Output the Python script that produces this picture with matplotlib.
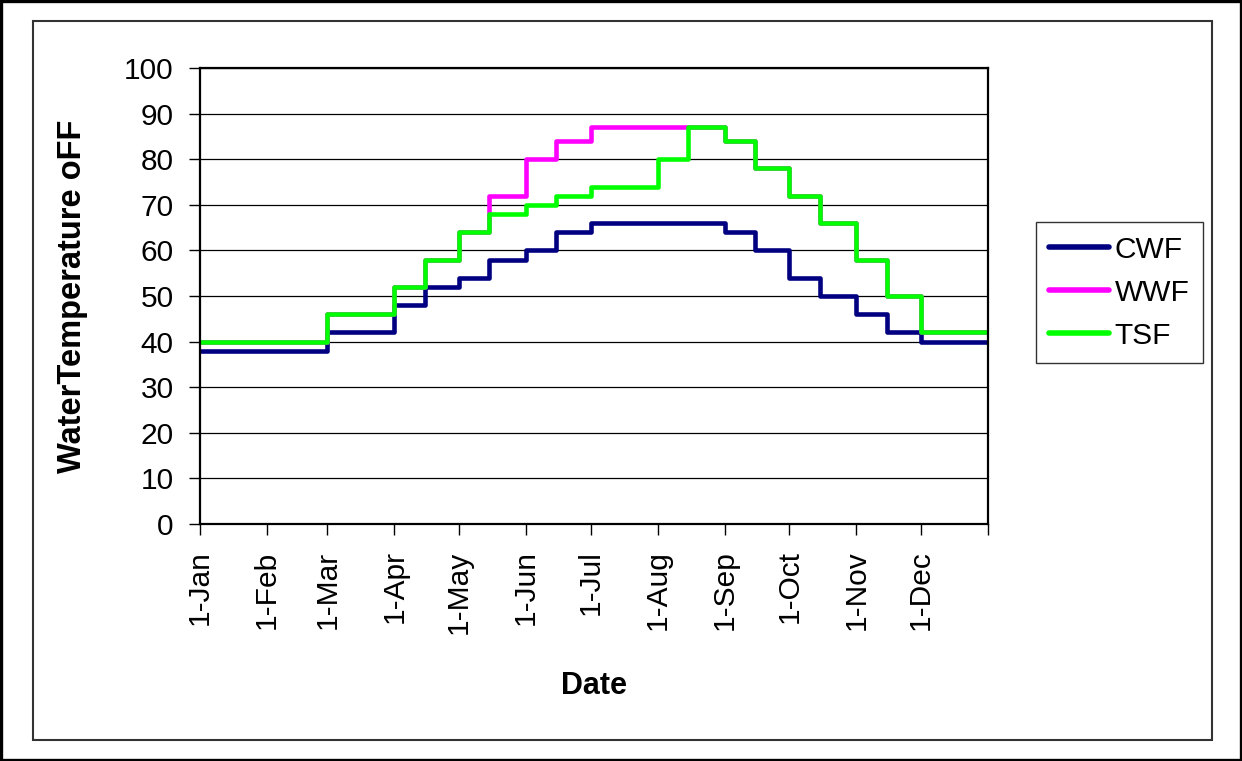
#python3

#import libraries
import numpy as np
import matplotlib
matplotlib.use('Agg')
import matplotlib.pyplot as plt
import matplotlib.patches as patches

plt.rcParams['font.family'] = ['Liberation Sans', 'DejaVu Sans']

#step data: value holds from each date until the next one
cwf_dates = ['2007-01-01', '2007-03-01', '2007-04-01', '2007-04-15', '2007-05-01', '2007-05-15',
             '2007-06-01', '2007-06-15', '2007-07-01', '2007-09-01', '2007-09-15', '2007-10-01',
             '2007-10-15', '2007-11-01', '2007-11-15', '2007-12-01', '2008-01-01']
cwf_vals = [38, 42, 48, 52, 54, 58, 60, 64, 66, 64, 60, 54, 50, 46, 42, 40, 40]

wwf_dates = ['2007-01-01', '2007-03-01', '2007-04-01', '2007-04-15', '2007-05-01', '2007-05-15',
             '2007-06-01', '2007-06-15', '2007-07-01', '2007-09-01', '2007-09-15', '2007-10-01',
             '2007-10-15', '2007-11-01', '2007-11-15', '2007-12-01', '2008-01-01']
wwf_vals = [40, 46, 52, 58, 64, 72, 80, 84, 87, 84, 78, 72, 66, 58, 50, 42, 42]

tsf_dates = ['2007-01-01', '2007-03-01', '2007-04-01', '2007-04-15', '2007-05-01', '2007-05-15',
             '2007-06-01', '2007-06-15', '2007-07-01', '2007-08-01', '2007-08-15', '2007-09-01',
             '2007-09-15', '2007-10-01', '2007-10-15', '2007-11-01', '2007-11-15', '2007-12-01',
             '2008-01-01']
tsf_vals = [40, 46, 52, 58, 64, 68, 70, 72, 74, 80, 87, 84, 78, 72, 66, 58, 50, 42, 42]

#x ticks
tick_dates = ['2007-01-01', '2007-02-01', '2007-03-01', '2007-04-01', '2007-05-01', '2007-06-01',
              '2007-07-01', '2007-08-01', '2007-09-01', '2007-10-01', '2007-11-01', '2007-12-01',
              '2008-01-01']
tick_labels = ['1-Jan', '1-Feb', '1-Mar', '1-Apr', '1-May', '1-Jun', '1-Jul', '1-Aug',
               '1-Sep', '1-Oct', '1-Nov', '1-Dec', '']

W, H = 1242, 761
fig = plt.figure(figsize=(W/100, H/100), dpi=100)
ax = fig.add_axes([200/W, 1-524/H, 788/W, 456/H])

#outer border and chart area frame
fig.patches.append(patches.Rectangle((1/W, 1/H), (W-2)/W, (H-2)/H, transform=fig.transFigure,
                                     fill=False, edgecolor='black', linewidth=2.4))
fig.patches.append(patches.Rectangle((33/W, 1-740/H), 1179/W, 719/H, transform=fig.transFigure,
                                     fill=False, edgecolor='#333333', linewidth=1.5))

#plot series
ax.step(np.array(cwf_dates, dtype='datetime64[D]'), cwf_vals, where='post',
        color='#000080', lw=3.3, label='CWF')
ax.step(np.array(wwf_dates, dtype='datetime64[D]'), wwf_vals, where='post',
        color='#FF00FF', lw=3.3, label='WWF')
ax.step(np.array(tsf_dates, dtype='datetime64[D]'), tsf_vals, where='post',
        color='#00FF00', lw=3.3, label='TSF')

#axes characteristics
ax.set_xlim(np.datetime64('2007-01-01'), np.datetime64('2008-01-01'))
ax.set_ylim(0, 100)
ax.set_yticks(range(0, 101, 10))
ax.set_xticks(np.array(tick_dates, dtype='datetime64[D]'))
ax.set_xticklabels(tick_labels, rotation=90, va='top', ha='center')
ax.tick_params(axis='both', labelsize=21.5, length=8, width=1, direction='out', colors='black')
ax.tick_params(axis='y', pad=11)
ax.tick_params(axis='x', pad=11)
ax.yaxis.grid(True, color='black', lw=0.9)
ax.set_axisbelow(True)
for sp in ax.spines.values():
    sp.set_linewidth(1.6)
    sp.set_color('black')

ax.set_ylabel('WaterTemperature oFF', fontsize=23.5, fontweight='bold')
ax.yaxis.set_label_coords((72-200)/788, 0.5)
ax.yaxis.label.set_va('center')
ax.set_xlabel('Date', fontsize=22, fontweight='bold')
ax.xaxis.set_label_coords(0.5, (524-686)/456)
ax.xaxis.label.set_va('center')

leg = ax.legend(loc='upper left', bbox_to_anchor=(1035.7/W, 1-222.3/H),
                bbox_transform=fig.transFigure, borderaxespad=0, fontsize=21.5,
                frameon=True, fancybox=False, edgecolor='black', handlelength=2.0,
                handletextpad=0.2, labelspacing=0.5, borderpad=0.45)
leg.get_frame().set_linewidth(1)
for line in leg.get_lines():
    line.set_linewidth(4)
    line.set_solid_capstyle('round')

plt.savefig('out.png', dpi=100)
